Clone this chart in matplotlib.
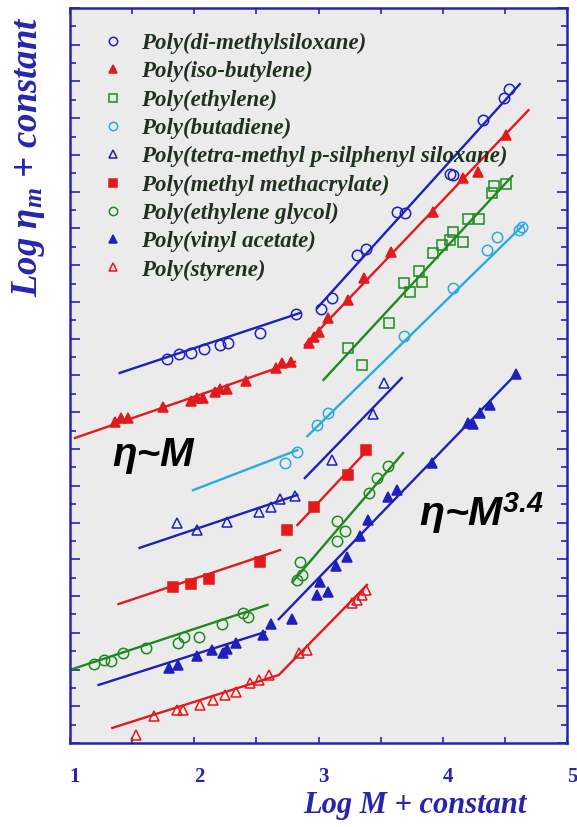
import numpy as np
import matplotlib
matplotlib.use('Agg')
import matplotlib.pyplot as plt
from matplotlib.ticker import MultipleLocator, NullFormatter
from matplotlib.transforms import ScaledTranslation

# ---------------- data ----------------
# Poly(di-methylsiloxane)
pdms_x = [1.78, 1.88, 1.97, 2.08, 2.21, 2.27, 2.53, 2.82,
          3.02, 3.11, 3.31, 3.38, 3.63, 3.70, 4.06, 4.08, 4.32, 4.49, 4.53]
pdms_y = [10.45, 10.59, 10.61, 10.72, 10.83, 10.88, 11.16, 11.67,
          11.81, 12.11, 13.28, 13.44, 14.45, 14.42, 15.48, 15.46, 16.95, 17.55, 17.80]
pdms_lo_fit_x, pdms_lo_fit_y = [1.40, 2.85], [10.07, 11.70]
pdms_hi_fit_x, pdms_hi_fit_y = [2.99, 4.62], [11.84, 17.93]

# Poly(iso-butylene)
pib_x = [1.36, 1.41, 1.47, 1.75, 1.97, 2.02, 2.07, 2.17, 2.21, 2.26, 2.42, 2.66, 2.71, 2.78,
         2.92, 2.96, 3.00, 3.08, 3.24, 3.37, 3.58, 3.92, 4.16, 4.28, 4.51]
pib_y = [8.74, 8.84, 8.84, 9.14, 9.31, 9.39, 9.39, 9.55, 9.63, 9.63, 9.85, 10.20, 10.34, 10.37,
         10.88, 11.05, 11.18, 11.56, 12.05, 12.65, 13.36, 14.45, 15.37, 15.54, 16.54]
pib_lo_fit_x, pib_lo_fit_y = [1.04, 2.81], [8.30, 10.37]
pib_hi_fit_x, pib_hi_fit_y = [2.89, 4.69], [10.83, 17.22]

# Poly(ethylene)
pe_x = [3.24, 3.35, 3.57, 3.69, 3.74, 3.81, 3.83, 3.92, 3.99, 4.06, 4.08, 4.16, 4.20, 4.29,
        4.40, 4.41, 4.51]
pe_y = [10.75, 10.29, 11.43, 12.52, 12.27, 12.84, 12.54, 13.33, 13.55, 13.69, 13.90, 13.63,
        14.26, 14.26, 14.97, 15.16, 15.21]
pe_hi_fit_x, pe_hi_fit_y = [3.04, 4.56], [9.88, 15.43]

# Poly(butadiene)
pb_x = [2.73, 2.83, 2.99, 3.08, 3.69, 4.08, 4.36, 4.44, 4.61, 4.64]
pb_y = [7.62, 7.92, 8.65, 8.98, 11.07, 12.38, 13.41, 13.77, 13.96, 14.04]
pb_lo_fit_x, pb_lo_fit_y = [1.99, 2.83], [6.88, 7.97]
pb_hi_fit_x, pb_hi_fit_y = [2.91, 4.65], [8.35, 14.10]

# Poly(tetra-methyl p-silphenyl siloxane)
ptmps_x = [1.86, 2.02, 2.26, 2.52, 2.62, 2.69, 2.81, 3.11, 3.44, 3.53]
ptmps_y = [5.99, 5.80, 6.01, 6.29, 6.42, 6.64, 6.72, 7.70, 8.95, 9.80]
ptmps_lo_fit_x, ptmps_lo_fit_y = [1.56, 2.83], [5.31, 6.75]
ptmps_hi_fit_x, ptmps_hi_fit_y = [2.89, 3.67], [7.21, 9.93]

# Poly(methyl methacrylate)
pmma_x = [1.83, 1.97, 2.12, 2.53, 2.75, 2.96, 3.24, 3.38]
pmma_y = [4.24, 4.33, 4.46, 4.93, 5.80, 6.42, 7.29, 7.97]
pmma_lo_fit_x, pmma_lo_fit_y = [1.39, 2.69], [3.78, 5.25]
pmma_hi_fit_x, pmma_hi_fit_y = [2.83, 3.38], [5.93, 7.92]

# Poly(ethylene glycol)
peg_x = [1.19, 1.27, 1.33, 1.43, 1.61, 1.87, 1.92, 2.04, 2.22, 2.39, 2.43,
         2.83, 2.87, 2.85, 3.15, 3.21, 3.15, 3.41, 3.47, 3.56]
peg_y = [2.15, 2.26, 2.23, 2.45, 2.59, 2.72, 2.88, 2.88, 3.24, 3.54, 3.43,
         4.44, 4.57, 4.93, 5.50, 5.77, 6.04, 6.80, 7.21, 7.54]
peg_lo_fit_x, peg_lo_fit_y = [1.00, 2.59], [1.99, 3.76]
peg_hi_fit_x, peg_hi_fit_y = [2.79, 3.68], [4.38, 7.89]

# Poly(vinyl acetate)
pvac_x = [1.80, 1.87, 2.02, 2.14, 2.23, 2.26, 2.34, 2.55, 2.62,
          2.79, 2.99, 3.08, 3.01, 3.14, 3.23, 3.33, 3.40, 3.56, 3.63, 3.91, 4.20, 4.24, 4.30,
          4.38, 4.59]
pvac_y = [2.04, 2.12, 2.37, 2.53, 2.45, 2.56, 2.72, 2.94, 3.24,
          3.37, 4.03, 4.11, 4.38, 4.82, 5.06, 5.63, 6.07, 6.69, 6.88, 7.62, 8.71, 8.68, 8.98,
          9.20, 10.04]
pvac_lo_fit_x, pvac_lo_fit_y = [1.23, 2.57], [1.58, 3.02]
pvac_hi_fit_x, pvac_hi_fit_y = [2.68, 4.59], [3.37, 10.04]

# Poly(styrene)
ps_x = [1.53, 1.68, 1.86, 1.91, 2.05, 2.15, 2.25, 2.34, 2.45, 2.52, 2.60,
        2.84, 2.91, 3.27, 3.31, 3.35, 3.38]
ps_y = [0.22, 0.73, 0.90, 0.90, 1.03, 1.17, 1.31, 1.39, 1.63, 1.71, 1.85,
        2.45, 2.53, 3.81, 3.89, 4.03, 4.16]
ps_fit_x, ps_fit_y = [1.34, 2.68, 3.39], [0.41, 1.85, 4.30]

# ---------------- style ----------------
BLUE = '#1f1fbb'
RED = '#e3191c'
GREEN = '#1e8a1e'
CYAN = '#2aaae2'
AXBLUE = '#2525b0'
TXT = '#1e321e'

plt.rcParams['mathtext.fontset'] = 'custom'
plt.rcParams['mathtext.rm'] = 'Liberation Serif:bold:italic'
plt.rcParams['mathtext.it'] = 'Liberation Serif:bold:italic'
plt.rcParams['mathtext.bf'] = 'Liberation Sans:bold:italic'

fig = plt.figure(figsize=(5.77, 8.27), dpi=100)
ax = fig.add_axes([70/577, 1-743/827, 497/577, 735/827])
ax.set_facecolor('#ebebeb')

series = [
    ('Poly(di-methylsiloxane)', pdms_x, pdms_y, 'o', BLUE, False,
     [(pdms_lo_fit_x, pdms_lo_fit_y), (pdms_hi_fit_x, pdms_hi_fit_y)]),
    ('Poly(iso-butylene)', pib_x, pib_y, '^', RED, True,
     [(pib_lo_fit_x, pib_lo_fit_y), (pib_hi_fit_x, pib_hi_fit_y)]),
    ('Poly(ethylene)', pe_x, pe_y, 's', GREEN, False,
     [(pe_hi_fit_x, pe_hi_fit_y)]),
    ('Poly(butadiene)', pb_x, pb_y, 'o', CYAN, False,
     [(pb_lo_fit_x, pb_lo_fit_y), (pb_hi_fit_x, pb_hi_fit_y)]),
    ('Poly(tetra-methyl p-silphenyl siloxane)', ptmps_x, ptmps_y, '^', BLUE, False,
     [(ptmps_lo_fit_x, ptmps_lo_fit_y), (ptmps_hi_fit_x, ptmps_hi_fit_y)]),
    ('Poly(methyl methacrylate)', pmma_x, pmma_y, 's', RED, True,
     [(pmma_lo_fit_x, pmma_lo_fit_y), (pmma_hi_fit_x, pmma_hi_fit_y)]),
    ('Poly(ethylene glycol)', peg_x, peg_y, 'o', GREEN, False,
     [(peg_lo_fit_x, peg_lo_fit_y), (peg_hi_fit_x, peg_hi_fit_y)]),
    ('Poly(vinyl acetate)', pvac_x, pvac_y, '^', BLUE, True,
     [(pvac_lo_fit_x, pvac_lo_fit_y), (pvac_hi_fit_x, pvac_hi_fit_y)]),
    ('Poly(styrene)', ps_x, ps_y, '^', RED, False,
     [(ps_fit_x, ps_fit_y)]),
]

handles = []
for name, xs, ys, mk, col, filled, fits in series:
    for fx, fy in fits:
        ax.plot(fx, fy, '-', color=col, lw=1.7, zorder=2)
    ms = 7.5 if mk != '^' else 7
    h, = ax.plot(xs, ys, linestyle='none', marker=mk, ms=ms, mew=1.1,
                 mec=col, mfc=col if filled else 'none', label=name, zorder=3)
    handles.append(h)

leg = ax.legend(handles=handles, loc='upper left', bbox_to_anchor=(0.063, 0.966),
                frameon=False, borderpad=0, borderaxespad=0, handlelength=1.0,
                handletextpad=0.75, labelspacing=0.31, markerscale=0.8,
                prop={'family': 'Liberation Serif', 'weight': 'bold',
                      'style': 'italic', 'size': 16.5})
for t in leg.get_texts():
    t.set_color(TXT)

ax.text(0.167, 0.392, 'η~M', transform=ax.transAxes, ha='center', va='center',
        family='Liberation Sans', weight='bold', style='italic', size=29)
ax.text(0.703, 0.313, 'η~M$^{\\mathbf{3.4}}$', transform=ax.transAxes, ha='left',
        va='center', family='Liberation Sans', weight='bold', style='italic', size=29.5)

ax.set_xlim(1, 5)
ax.set_ylim(0, 20)
ax.xaxis.set_major_locator(MultipleLocator(1))
ax.xaxis.set_minor_locator(MultipleLocator(0.5))
ax.yaxis.set_major_locator(MultipleLocator(1))
ax.yaxis.set_minor_locator(MultipleLocator(0.5))
ax.yaxis.set_major_formatter(NullFormatter())
ax.set_xticks([1, 2, 3, 4, 5])
ax.set_xticklabels(['1', '2', '3', '4', '5'])

ax.tick_params(axis='x', which='both', direction='in', top=True, length=4.5,
               width=1.2, color=AXBLUE, pad=17, labelcolor=AXBLUE, labelsize=15)
ax.tick_params(axis='y', which='major', direction='in', right=True, length=7,
               width=1.2, color=AXBLUE)
ax.tick_params(axis='y', which='minor', direction='in', right=True, length=4,
               width=1.2, color=AXBLUE)
for lab in ax.get_xticklabels():
    lab.set_family('Liberation Serif')
    lab.set_weight('bold')
    lab.set_transform(lab.get_transform() + ScaledTranslation(0.05, 0, fig.dpi_scale_trans))

for side in ['top', 'bottom', 'left', 'right']:
    ax.spines[side].set_color(AXBLUE)
    ax.spines[side].set_linewidth(1.8)

fig.text(29/577, 1-157/827, 'Log η$_m$ + constant', rotation=90, ha='center', va='center',
         color=AXBLUE, family='Liberation Serif', weight='bold', style='italic', size=26.5)
fig.text(415/577, 1-806/827, 'Log M + constant', ha='center', va='center',
         color=AXBLUE, family='Liberation Serif', weight='bold', style='italic', size=22)

fig.savefig('out.png', dpi=100)
